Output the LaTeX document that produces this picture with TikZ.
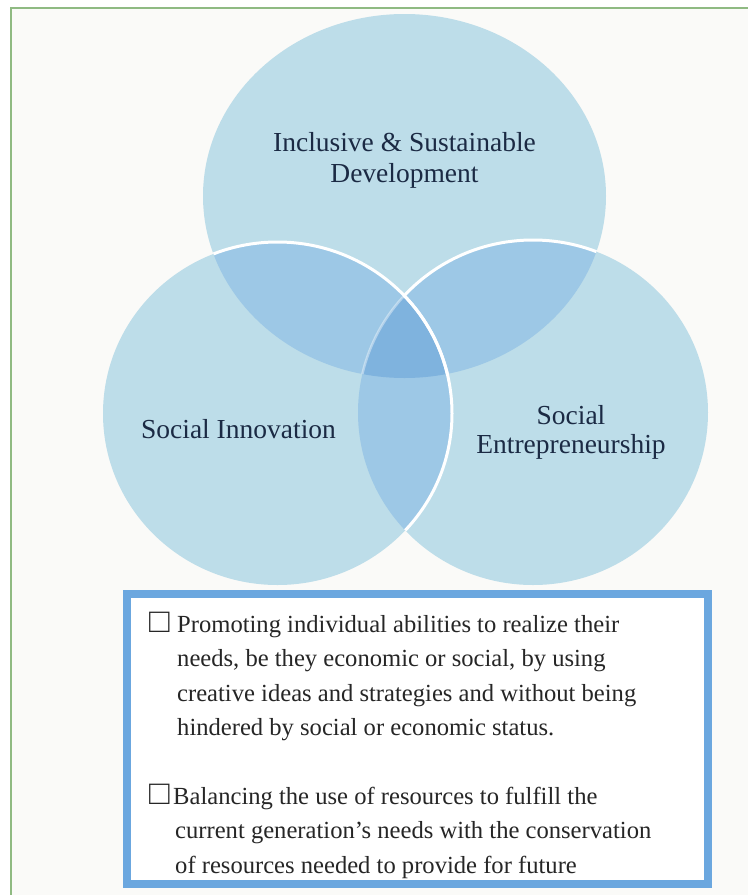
\documentclass[tikz,border=0pt]{standalone}
\usepackage{fontspec}
\setmainfont{Liberation Serif}
\begin{document}
\begin{tikzpicture}[x=1pt,y=-1pt]
\definecolor{bgin}{HTML}{FAFAF8}
\definecolor{framegreen}{HTML}{8FBA82}
\definecolor{sgl}{HTML}{BDDDE9}
\definecolor{dbl}{HTML}{9DC8E6}
\definecolor{trp}{HTML}{7FB3DE}
\definecolor{boxblue}{HTML}{6BA7DF}
\definecolor{labelink}{HTML}{1B2A44}
\definecolor{bodyink}{HTML}{262626}
\tikzset{
  circlabel/.style={anchor=base, inner sep=0pt, text=labelink, font=\fontsize{27.5}{31}\selectfont},
  bodyline/.style={anchor=base west, inner sep=0pt, text=bodyink, font=\fontsize{24.6}{34.5}\selectfont},
  boxmark/.style={anchor=base west, inner sep=0pt, text=bodyink, font=\fontsize{34}{34}\selectfont},
}
\def\pT{(404.5,196) ellipse [x radius=201.5pt, y radius=182pt]}
\def\pL{(277.5,413.5) ellipse [x radius=174.5pt, y radius=171.5pt]}
\def\pR{(533,412.5) ellipse [x radius=175pt, y radius=172.5pt]}
\useasboundingbox (0,0) rectangle (748,895);
\fill[white] (0,0) rectangle (748,895);
\fill[bgin] (11,8) rectangle (748,895);
\draw[framegreen, line width=1.5pt] (11,895) -- (11,8) -- (748,8);
% single regions
\fill[sgl] \pT;
\fill[sgl] \pL;
\fill[sgl] \pR;
% double overlaps
\begin{scope}\clip \pT; \fill[dbl] \pL; \fill[dbl] \pR; \end{scope}
\begin{scope}\clip \pL; \fill[dbl] \pR; \end{scope}
% triple
\begin{scope}\clip \pT; \clip \pL; \fill[trp] \pR; \end{scope}
% white outlines
\begin{scope}[even odd rule]
  \clip (-20,-20) rectangle (770,920) \pL;
  \begin{scope}\clip \pT; \draw[white, line width=3pt] \pR; \end{scope}
\end{scope}
\begin{scope}\clip \pT; \clip \pL; \draw[white, opacity=0.4, line width=2.5pt] \pR; \end{scope}
\begin{scope}\clip \pT; \draw[white, line width=3pt] \pL; \end{scope}
\begin{scope}\clip \pR; \draw[white, line width=3pt] \pL; \end{scope}
% labels
\node[circlabel] (t1) at (404.5,151) {Inclusive \& Sustainable};
\node[circlabel] (t2) at (404.5,182) {Development};
\node[circlabel] (li) at (238.5,438) {Social Innovation};
\node[circlabel] (r1) at (571,424) {Social};
\node[circlabel] (r2) at (571,453) {Entrepreneurship};
% box
\draw[boxblue, line width=8pt, fill=white] (127,594) rectangle (708,884);
\node[boxmark] (m1) at (149,632) {□};
\node[bodyline] (a1) at (177,632) {Promoting individual abilities to realize their};
\node[bodyline] (a2) at (177,666.5) {needs, be they economic or social, by using};
\node[bodyline] (a3) at (177,701) {creative ideas and strategies and without being};
\node[bodyline] (a4) at (177,735.5) {hindered by social or economic status.};
\node[boxmark] (m2) at (149,804) {□};
\node[bodyline] (b1) at (173,804) {Balancing the use of resources to fulfill the};
\node[bodyline] (b2) at (175,838.5) {current generation's needs with the conservation};
\node[bodyline] (b3) at (175,873) {of resources needed to provide for future};
\end{tikzpicture}
\end{document}
